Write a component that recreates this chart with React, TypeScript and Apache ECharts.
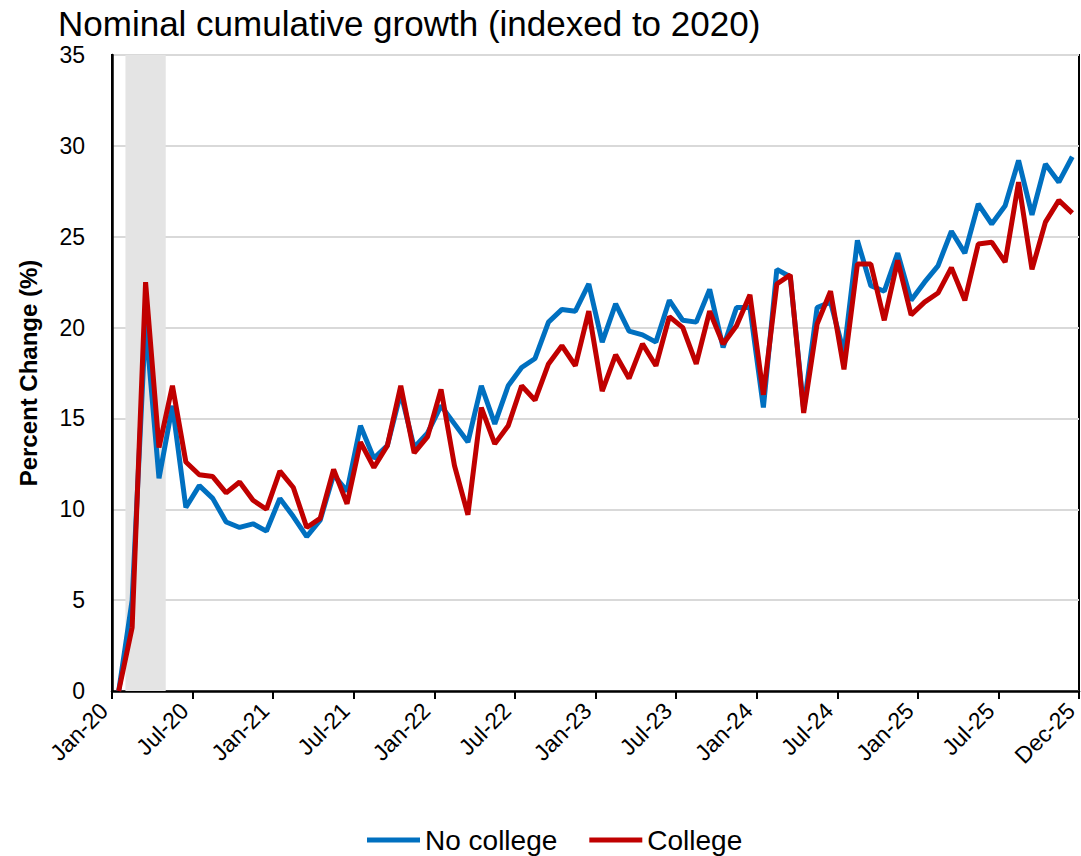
import React, { useEffect, useRef } from "react";
import * as echarts from "echarts";

const xTickLabels = [
  "Jan-20", "Jul-20", "Jan-21", "Jul-21", "Jan-22", "Jul-22", "Jan-23",
  "Jul-23", "Jan-24", "Jul-24", "Jan-25", "Jul-25", "Dec-25",
];

const noCollege = [
  0, 5.0, 20.3, 11.7, 15.7, 10.1, 11.3, 10.6, 9.3, 9.0, 9.2, 8.8,
  10.6, 9.6, 8.5, 9.4, 11.9, 11.0, 14.6, 12.8, 13.5, 16.4, 13.4, 14.2,
  15.7, 14.7, 13.7, 16.8, 14.7, 16.8, 17.8, 18.3, 20.3, 21.0, 20.9, 22.4,
  19.2, 21.3, 19.8, 19.6, 19.2, 21.5, 20.4, 20.3, 22.1, 18.9, 21.1, 21.1,
  15.6, 23.2, 22.8, 15.5, 21.1, 21.4, 18.6, 24.8, 22.3, 22.0, 24.1, 21.5,
  22.5, 23.4, 25.3, 24.1, 26.8, 25.7, 26.7, 29.2, 26.2, 29.0, 28.0, 29.4,
];

const college = [
  0, 3.5, 22.5, 13.4, 16.8, 12.6, 11.9, 11.8, 10.9, 11.5, 10.5, 10.0,
  12.1, 11.2, 9.0, 9.5, 12.2, 10.3, 13.7, 12.3, 13.5, 16.8, 13.1, 14.0,
  16.6, 12.4, 9.7, 15.6, 13.6, 14.6, 16.8, 16.0, 18.0, 19.0, 17.9, 20.9,
  16.5, 18.5, 17.2, 19.1, 17.9, 20.6, 20.0, 18.0, 20.9, 19.1, 20.1, 21.8,
  16.3, 22.4, 22.9, 15.3, 20.2, 22.0, 17.7, 23.5, 23.5, 20.4, 23.7, 20.7,
  21.4, 21.9, 23.3, 21.5, 24.6, 24.7, 23.6, 28.0, 23.2, 25.8, 27.0, 26.3,
];

// recession shading: Feb-20 through Apr-20 (month index span)
const recessionStart = 1;
const recessionEnd = 4;

const FONT = "'Liberation Sans', Arial, sans-serif";

export default function App() {
  const ref = useRef<HTMLDivElement>(null);
  useEffect(() => {
    if (!ref.current) return;
    const chart = echarts.init(ref.current, undefined, { renderer: "svg" });
    const toPts = (arr: number[]) => arr.map((v, i) => [i + 0.5, v]);
    chart.setOption({
      animation: false,
      backgroundColor: "#ffffff",
      textStyle: { fontFamily: FONT, color: "#000" },
      title: {
        text: "Nominal cumulative growth (indexed to 2020)",
        left: 53,
        top: 1,
        textStyle: { fontFamily: FONT, fontSize: 35, fontWeight: "normal", color: "#000" },
      },
      legend: {
        left: 362,
        top: 821,
        icon: "rect",
        itemWidth: 53,
        itemHeight: 5,
        itemGap: 32,
        textStyle: { fontFamily: FONT, fontSize: 28, color: "#000" },
        data: ["No college", "College"],
      },
      grid: {
        left: 112,
        right: 2,
        top: 55,
        bottom: 165,
        containLabel: false,
        outerBoundsMode: "none",
        show: true,
        borderColor: "#000",
        borderWidth: 2,
        backgroundColor: "transparent",
      },
      xAxis: {
        type: "value",
        min: 0,
        max: 72,
        interval: 6,
        axisLine: { show: true, lineStyle: { color: "#000", width: 2.5 } },
        axisTick: { show: true, length: 8, lineStyle: { color: "#000", width: 2 } },
        splitLine: { show: false },
        axisLabel: {
          rotate: 45,
          fontFamily: FONT,
          fontSize: 23,
          color: "#000",
          margin: 24,
          align: "right",
          verticalAlign: "bottom",
          formatter: (v: number) => xTickLabels[Math.round(v / 6)] ?? "",
        },
      },
      yAxis: {
        type: "value",
        min: 0,
        max: 35,
        interval: 5,
        name: "Percent Change (%)",
        nameLocation: "middle",
        nameGap: 72,
        nameTextStyle: { fontFamily: FONT, fontSize: 24, fontWeight: "bold", color: "#000" },
        axisLine: { show: true, lineStyle: { color: "#000", width: 2.5 } },
        axisTick: { show: false },
        splitLine: { show: true, lineStyle: { color: "#D9D9D9", width: 2 } },
        axisLabel: { fontFamily: FONT, fontSize: 23, color: "#000", margin: 27 },
      },
      series: [
        {
          name: "No college",
          type: "line",
          data: toPts(noCollege),
          showSymbol: false,
          symbol: "none",
          lineStyle: { color: "#0070C0", width: 5 },
          itemStyle: { color: "#0070C0" },
          markArea: {
            silent: true,
            itemStyle: { color: "#E4E4E4" },
            data: [[{ xAxis: recessionStart }, { xAxis: recessionEnd }]],
          },
          z: 2,
        },
        {
          name: "College",
          type: "line",
          data: toPts(college),
          showSymbol: false,
          symbol: "none",
          lineStyle: { color: "#C00000", width: 5 },
          itemStyle: { color: "#C00000" },
          z: 3,
        },
      ],
    });
    return () => chart.dispose();
  }, []);
  return (
    <div
      ref={ref}
      style={{ position: "fixed", left: 0, top: 0, width: 1081, height: 856 }}
    />
  );
}
